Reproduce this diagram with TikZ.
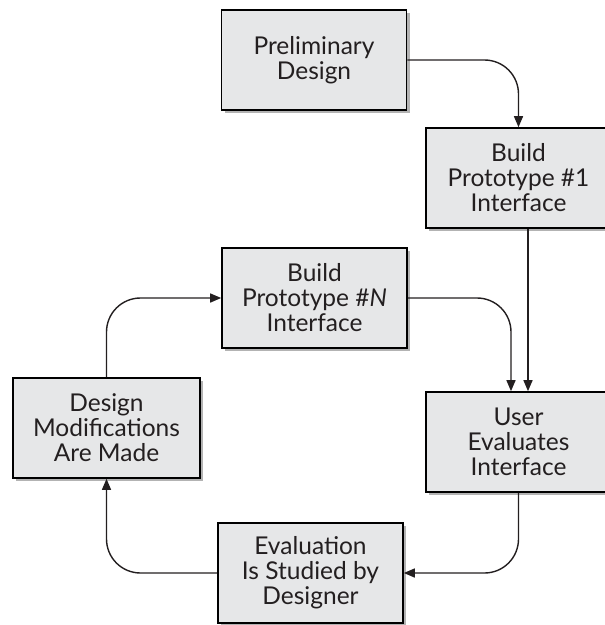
\documentclass[tikz,border=0pt]{standalone}
\usepackage{fontspec}
\setmainfont{Lato}
\usetikzlibrary{arrows.meta,shadows}
\definecolor{boxfill}{HTML}{E6E7E8}
\definecolor{ink}{HTML}{231F20}
\begin{document}
\begin{tikzpicture}[x=1pt,y=-1pt,
  box/.style={draw=black, line width=1.6pt, fill=boxfill, minimum width=185pt,
    minimum height=100pt, align=center, text=ink, inner sep=0pt,
    font=\fontsize{24.5}{25}\selectfont,
    drop shadow={shadow xshift=3pt,shadow yshift=-3pt,fill=black!50,opacity=0.6}},
  conn/.style={line width=1.4pt, draw=ink, -{Triangle[length=11pt,width=9pt]},
    rounded corners=34pt}]
\useasboundingbox (0,0) rectangle (605,625);
\node[box] (pre)  at (314,60)    {Preliminary\\Design};
\node[box] (b1)   at (518.5,178) {Build\\Prototype \#1\\Interface};
\node[box] (bn)   at (314.5,298) {Build\\Prototype \#\textit{N}\\Interface};
\node[box, minimum width=187pt] (dm) at (106.5,428) {Design\\Modifications\\Are Made};
\node[box] (user) at (518.5,442) {User\\Evaluates\\Interface};
\node[box] (ev)   at (310.5,573) {Evaluation\\Is Studied by\\Designer};

\draw[conn] (pre.east) -| (b1.north);
\draw[conn] ([xshift=9.5pt]b1.south) -- ([xshift=9.5pt]user.north);
\draw[conn] (bn.east) -| ([xshift=-7.5pt]user.north);
\draw[conn] (user.south) |- (ev.east);
\draw[conn] (ev.west) -| (dm.south);
\draw[conn] (dm.north) |- (bn.west);
\end{tikzpicture}
\end{document}
